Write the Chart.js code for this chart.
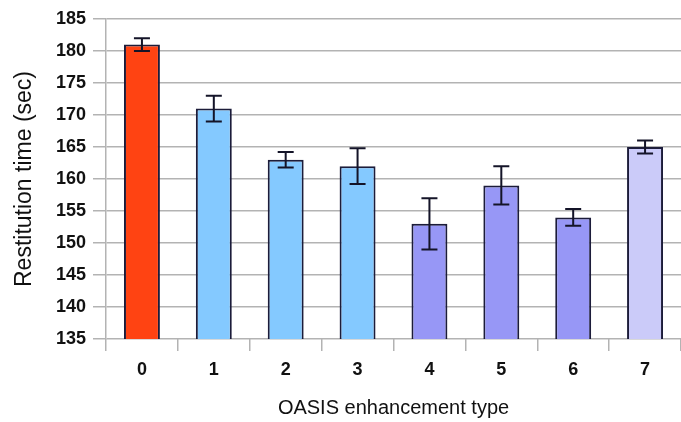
<!DOCTYPE html>
<html>
<head>
<meta charset="utf-8">
<script src="https://cdn.jsdelivr.net/npm/chart.js@4.4.1/dist/chart.umd.min.js"></script>
<style>
  html, body { margin: 0; padding: 0; background: #ffffff; }
  #wrap { width: 681px; height: 422px; position: relative; }
</style>
</head>
<body>
<div id="wrap"><canvas id="chart"></canvas></div>
<script>
// chart values
var categories = ["0", "1", "2", "3", "4", "5", "6", "7"];
var restitutionTimes = [181, 171, 163, 162, 153, 159, 154, 165];
var errorSizes = [1, 2, 1.2, 2.8, 4, 3, 1.3, 1];
var barColors = ["#ff4312", "#84c9ff", "#84c9ff", "#84c9ff", "#9797f6", "#9797f6", "#9797f6", "#cbcbf9"];

// draws the error bars using the chart's own scales
var errorBarPlugin = {
  id: "errorBars",
  afterDatasetsDraw: function (chart) {
    var ctx = chart.ctx;
    var meta = chart.getDatasetMeta(0);
    var yScale = chart.scales.y;
    ctx.save();
    ctx.strokeStyle = "#141428";
    ctx.lineWidth = 2;
    meta.data.forEach(function (bar, i) {
      var v = restitutionTimes[i];
      var e = errorSizes[i];
      var top = yScale.getPixelForValue(v + e);
      var bottom = yScale.getPixelForValue(v - e);
      var x = bar.x;
      ctx.beginPath();
      ctx.moveTo(x, top);
      ctx.lineTo(x, bottom);
      ctx.moveTo(x - 8, top);
      ctx.lineTo(x + 8, top);
      ctx.moveTo(x - 8, bottom);
      ctx.lineTo(x + 8, bottom);
      ctx.stroke();
    });
    ctx.restore();
  }
};

var ctx = document.getElementById("chart").getContext("2d");
new Chart(ctx, {
  type: "bar",
  data: {
    labels: categories,
    datasets: [
      {
        data: restitutionTimes,
        backgroundColor: barColors,
        borderColor: "#1c1c3a",
        borderWidth: 2,
        borderSkipped: false,
        barPercentage: 0.5,
        categoryPercentage: 1.0,
      },
    ],
  },
  options: {
    responsive: true,
    maintainAspectRatio: false,
    animation: false,
    layout: { padding: { top: 19, right: 0, left: 0, bottom: 0 } },
    plugins: {
      legend: { display: false },
      tooltip: { enabled: false },
    },
    scales: {
      x: {
        grid: {
          offset: true,
          drawOnChartArea: false,
          drawTicks: true,
          tickLength: 12,
          color: "#b3b3b3",
          lineWidth: 1.5,
        },
        border: { display: false },
        ticks: {
          color: "#111111",
          padding: 8,
          font: { family: "Liberation Sans", size: 18, weight: "bold" },
        },
        title: {
          display: true,
          text: "OASIS enhancement type",
          color: "#111111",
          font: { family: "Liberation Sans", size: 20 },
          padding: { top: 4, bottom: 2 },
        },
        afterFit: function (scale) {
          scale.height = 83;
        },
      },
      y: {
        min: 135,
        max: 185,
        grid: {
          color: "#b3b3b3",
          lineWidth: 1.5,
          tickLength: 13,
        },
        border: { display: true, color: "#b3b3b3", width: 1.5 },
        ticks: {
          stepSize: 5,
          color: "#111111",
          padding: 7,
          font: { family: "Liberation Sans", size: 18, weight: "bold" },
        },
        title: {
          display: true,
          text: "Restitution time (sec)",
          color: "#111111",
          font: { family: "Liberation Sans", size: 23 },
          padding: { top: 11, bottom: 0 },
        },
        afterFit: function (scale) {
          scale.width = 106;
        },
      },
    },
  },
  plugins: [errorBarPlugin],
});
</script>
</body>
</html>
